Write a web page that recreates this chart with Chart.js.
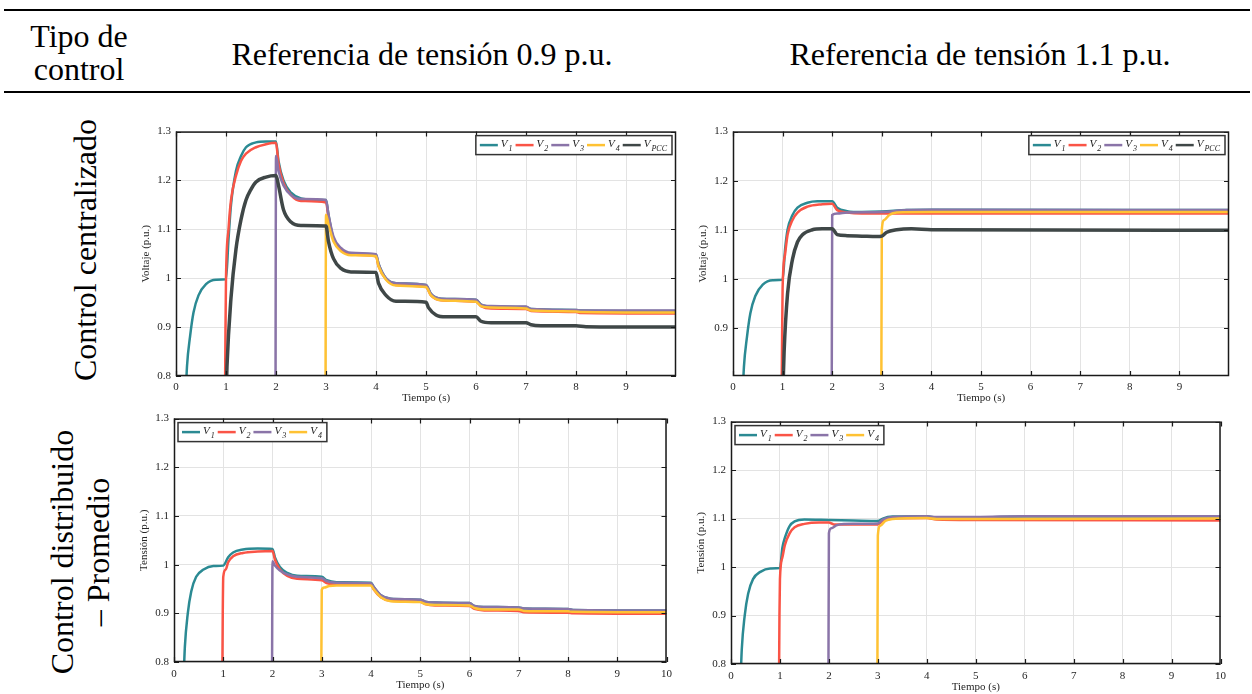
<!DOCTYPE html>
<html>
<head>
<meta charset="utf-8">
<script src="https://cdn.jsdelivr.net/npm/chart.js@4.4.1/dist/chart.umd.min.js"></script>
<style>
  body { margin: 0; width: 1252px; height: 694px; background: #fff; position: relative; overflow: hidden; font-family: "Liberation Serif", serif; color: #000; }
  .rule { position: absolute; left: 4px; width: 1246px; height: 2px; background: #000; }
  .txt { position: absolute; font-size: 32px; text-align: center; white-space: nowrap; }
  .rot { position: absolute; font-size: 32px; text-align: center; white-space: nowrap; transform: rotate(-90deg); transform-origin: 50% 50%; }
  .panel { position: absolute; }
</style>
</head>
<body>
<div class="rule" style="top:9px"></div>
<div class="rule" style="top:91px"></div>
<div class="txt" style="left:20px;top:20px;width:118px;line-height:33px">Tipo de<br>control</div>
<div class="txt" style="left:172px;top:38px;width:500px;line-height:32px">Referencia de tensión 0.9 p.u.</div>
<div class="txt" style="left:730px;top:38px;width:500px;line-height:32px">Referencia de tensión 1.1 p.u.</div>
<div class="rot" style="left:-75px;top:234px;width:320px;line-height:32px">Control centralizado</div>
<div class="rot" style="left:-80px;top:516px;width:320px;line-height:36px">Control distribuido<br>– Promedio</div>

<div class="panel" style="left:130px;top:120px;width:550px;height:290px"><canvas id="cTL"></canvas></div>
<div class="panel" style="left:690px;top:120px;width:545px;height:290px"><canvas id="cTR"></canvas></div>
<div class="panel" style="left:130px;top:407px;width:548px;height:287px"><canvas id="cBL"></canvas></div>
<div class="panel" style="left:690px;top:410px;width:542px;height:284px"><canvas id="cBR"></canvas></div>

<script>
// tick values / labels
const xTicksTop = [0, 1, 2, 3, 4, 5, 6, 7, 8, 9];
const xTickLabelsTop = ['0', '1', '2', '3', '4', '5', '6', '7', '8', '9'];
const xTicksBottom = [0, 1, 2, 3, 4, 5, 6, 7, 8, 9, 10];
const xTickLabelsBottom = ['0', '1', '2', '3', '4', '5', '6', '7', '8', '9', '10'];
const yTicksFull = [0.8, 0.9, 1, 1.1, 1.2, 1.3];
const yTickLabelsFull = ['0.8', '0.9', '1', '1.1', '1.2', '1.3'];
const yTicksNo08 = [0.9, 1, 1.1, 1.2, 1.3];
const yTickLabelsNo08 = ['0.9', '1', '1.1', '1.2', '1.3'];
const seriesLabels = ['V1', 'V2', 'V3', 'V4', 'VPCC'];
const legendSubs = ['1', '2', '3', '4', 'PCC'];

// Control centralizado, referencia 0.9 p.u.  [t (s), V (p.u.)]
const cen09V1 = [[0.19,0.75],[0.22,0.82],[0.28,0.88],[0.35,0.93],[0.45,0.965],[0.6,0.988],[0.8,0.997],[1.0,0.998],[1.05,1.08],[1.1,1.15],[1.2,1.22],[1.3,1.25],[1.4,1.268],[1.6,1.278],[1.8,1.28],[2.0,1.28],[2.05,1.24],[2.15,1.2],[2.3,1.175],[2.5,1.163],[2.8,1.16],[3.0,1.16],[3.05,1.13],[3.15,1.08],[3.3,1.06],[3.5,1.05],[4.0,1.048],[4.05,1.03],[4.2,1.0],[4.4,0.99],[5.0,0.986],[5.1,0.968],[5.3,0.958],[6.0,0.956],[6.1,0.946],[6.3,0.942],[7.0,0.941],[7.1,0.937],[8.0,0.935],[8.1,0.934],[10,0.933]];
const cen09V2 = [[0.98,0.75],[0.99,0.9],[1.0,1.0],[1.05,1.1],[1.1,1.16],[1.2,1.21],[1.3,1.24],[1.4,1.255],[1.6,1.268],[1.8,1.274],[2.0,1.277],[2.05,1.235],[2.15,1.195],[2.3,1.17],[2.5,1.158],[3.0,1.155],[3.05,1.125],[3.15,1.08],[3.3,1.058],[3.5,1.048],[4.0,1.045],[4.05,1.025],[4.2,0.998],[4.4,0.986],[5.0,0.982],[5.1,0.965],[5.3,0.955],[6.0,0.952],[6.1,0.943],[6.3,0.938],[7.0,0.937],[7.1,0.933],[8.0,0.931],[8.1,0.929],[10,0.928]];
const cen09V3 = [[1.99,0.75],[2.0,1.25],[2.05,1.22],[2.15,1.19],[2.3,1.17],[2.5,1.162],[3.0,1.16],[3.05,1.13],[3.15,1.085],[3.3,1.062],[3.5,1.052],[4.0,1.049],[4.05,1.03],[4.2,1.0],[4.4,0.99],[5.0,0.986],[5.1,0.968],[5.3,0.958],[6.0,0.956],[6.1,0.946],[6.3,0.943],[7.0,0.942],[7.1,0.937],[8.0,0.935],[8.1,0.934],[10,0.934]];
const cen09V4 = [[2.99,0.75],[3.0,1.13],[3.05,1.11],[3.15,1.075],[3.3,1.055],[3.5,1.047],[4.0,1.045],[4.05,1.025],[4.2,0.997],[4.4,0.985],[5.0,0.982],[5.1,0.965],[5.3,0.955],[6.0,0.952],[6.1,0.943],[6.3,0.94],[7.0,0.938],[7.1,0.934],[8.0,0.932],[8.1,0.931],[10,0.93]];
const cen09Vpcc = [[1.0,0.75],[1.02,0.82],[1.1,0.96],[1.2,1.06],[1.3,1.12],[1.4,1.16],[1.5,1.182],[1.6,1.197],[1.8,1.207],[2.0,1.21],[2.05,1.19],[2.15,1.14],[2.3,1.115],[2.5,1.108],[3.0,1.107],[3.05,1.075],[3.15,1.04],[3.3,1.02],[3.5,1.013],[4.0,1.012],[4.05,0.99],[4.2,0.965],[4.4,0.953],[5.0,0.951],[5.05,0.94],[5.2,0.925],[5.4,0.921],[6.0,0.921],[6.1,0.912],[6.3,0.909],[7.0,0.909],[7.1,0.905],[7.3,0.903],[8.0,0.903],[8.2,0.901],[10,0.9]];

// Control centralizado, referencia 1.1 p.u.
const cen11V1 = [[0.19,0.75],[0.22,0.82],[0.28,0.88],[0.35,0.93],[0.45,0.965],[0.6,0.988],[0.8,0.997],[1.0,0.998],[1.05,1.06],[1.1,1.1],[1.2,1.13],[1.3,1.145],[1.5,1.155],[1.7,1.158],[2.0,1.158],[2.1,1.145],[2.3,1.138],[2.6,1.136],[3.0,1.137],[3.5,1.14],[4.0,1.141],[10,1.14]];
const cen11V2 = [[0.98,0.75],[0.99,0.88],[1.0,0.98],[1.05,1.05],[1.1,1.09],[1.2,1.12],[1.3,1.135],[1.5,1.147],[1.8,1.152],[2.0,1.153],[2.1,1.14],[2.3,1.135],[2.6,1.133],[3.0,1.133],[3.5,1.133],[10,1.133]];
const cen11V3 = [[1.99,0.75],[2.0,1.13],[2.1,1.133],[2.3,1.135],[3.0,1.136],[3.5,1.14],[4.0,1.141],[10,1.14]];
const cen11V4 = [[2.99,0.75],[3.0,1.1],[3.05,1.12],[3.15,1.13],[3.3,1.135],[4.0,1.136],[10,1.136]];
const cen11Vpcc = [[1.0,0.75],[1.03,0.85],[1.1,0.97],[1.2,1.04],[1.3,1.075],[1.4,1.09],[1.6,1.1],[1.8,1.102],[2.0,1.102],[2.1,1.09],[2.3,1.088],[2.6,1.087],[2.9,1.086],[3.0,1.087],[3.1,1.095],[3.3,1.1],[3.6,1.102],[4.0,1.1],[10,1.099]];

// Control distribuido - Promedio, referencia 0.9 p.u.
const dis09V1 = [[0.19,0.75],[0.22,0.83],[0.28,0.9],[0.35,0.945],[0.45,0.975],[0.6,0.99],[0.8,0.997],[1.0,0.998],[1.1,1.015],[1.2,1.025],[1.4,1.031],[1.7,1.033],[2.0,1.032],[2.05,1.015],[2.15,0.995],[2.3,0.983],[2.5,0.977],[3.0,0.975],[3.1,0.968],[3.3,0.964],[4.0,0.963],[4.05,0.955],[4.2,0.937],[4.4,0.93],[5.0,0.928],[5.1,0.924],[5.3,0.922],[6.0,0.921],[6.1,0.915],[6.3,0.913],[7.0,0.912],[7.1,0.91],[8.0,0.909],[8.1,0.907],[10,0.906]];
const dis09V2 = [[0.98,0.75],[0.99,0.9],[1.0,0.975],[1.05,0.99],[1.1,1.005],[1.2,1.017],[1.4,1.024],[1.7,1.027],[2.0,1.028],[2.05,1.01],[2.15,0.99],[2.3,0.977],[2.5,0.971],[3.0,0.968],[3.1,0.962],[3.3,0.959],[4.0,0.959],[4.05,0.95],[4.2,0.933],[4.4,0.926],[5.0,0.924],[5.1,0.919],[5.3,0.916],[6.0,0.915],[6.1,0.909],[6.3,0.906],[7.0,0.905],[7.1,0.902],[8.0,0.901],[8.1,0.9],[10,0.899]];
const dis09V3 = [[1.99,0.75],[2.0,1.007],[2.05,0.998],[2.15,0.988],[2.3,0.98],[2.5,0.975],[3.0,0.972],[3.1,0.966],[3.3,0.963],[4.0,0.962],[4.05,0.955],[4.2,0.937],[4.4,0.93],[5.0,0.928],[5.1,0.924],[5.3,0.922],[6.0,0.921],[6.1,0.915],[6.3,0.913],[7.0,0.912],[7.1,0.91],[8.0,0.909],[8.1,0.907],[10,0.906]];
const dis09V4 = [[2.99,0.75],[3.0,0.948],[3.05,0.953],[3.15,0.956],[3.3,0.957],[4.0,0.957],[4.05,0.95],[4.2,0.933],[4.4,0.925],[5.0,0.923],[5.1,0.919],[5.3,0.917],[6.0,0.916],[6.1,0.911],[6.3,0.908],[7.0,0.908],[7.1,0.905],[8.0,0.904],[8.1,0.903],[10,0.902]];

// Control distribuido - Promedio, referencia 1.1 p.u.
const dis11V1 = [[0.19,0.75],[0.22,0.83],[0.28,0.9],[0.35,0.945],[0.45,0.975],[0.6,0.99],[0.8,0.997],[1.0,0.998],[1.05,1.04],[1.1,1.06],[1.2,1.085],[1.3,1.094],[1.5,1.098],[2.0,1.097],[2.5,1.096],[3.0,1.095],[3.1,1.1],[3.3,1.104],[4.0,1.105],[4.2,1.102],[5.0,1.102],[6.0,1.104],[10,1.104]];
const dis11V2 = [[0.98,0.75],[0.99,0.9],[1.0,0.975],[1.05,1.02],[1.1,1.045],[1.2,1.07],[1.3,1.082],[1.5,1.089],[1.8,1.092],[2.0,1.092],[2.1,1.088],[2.3,1.088],[3.0,1.088],[3.1,1.095],[3.3,1.1],[4.0,1.101],[4.2,1.098],[5.0,1.097],[10,1.096]];
const dis11V3 = [[1.99,0.75],[2.0,1.07],[2.05,1.08],[2.15,1.086],[2.3,1.089],[3.0,1.09],[3.1,1.098],[3.3,1.103],[4.0,1.105],[4.2,1.103],[5.0,1.103],[6.0,1.105],[10,1.105]];
const dis11V4 = [[2.99,0.75],[3.0,1.065],[3.05,1.085],[3.15,1.095],[3.3,1.099],[4.0,1.101],[4.2,1.099],[5.0,1.099],[10,1.1]];

const seriesColors = ['#2b8a93', '#fa5446', '#8a74a8', '#ffc233', '#3f4747'];
const seriesWidths = [2.5, 2.5, 2.5, 2.5, 3.5];

// box + inward ticks like the original figure
const framePlugin = {
    id: 'frame',
    afterDatasetsDraw(chart) {
        const ctx = chart.ctx, a = chart.chartArea;
        const x = chart.scales.x, y = chart.scales.y;
        ctx.save();
        ctx.strokeStyle = '#1a1a1a';
        ctx.lineWidth = 1.5;
        ctx.strokeRect(a.left + 0.5, a.top + 0.5, a.right - a.left - 1, a.bottom - a.top - 1);
        ctx.lineWidth = 1.2;
        ctx.beginPath();
        x.ticks.forEach(function(t) {
            const px = Math.round(x.getPixelForValue(t.value)) + 0.5;
            ctx.moveTo(px, a.bottom); ctx.lineTo(px, a.bottom - 5);
            ctx.moveTo(px, a.top); ctx.lineTo(px, a.top + 5);
        });
        y.ticks.forEach(function(t) {
            const py = Math.round(y.getPixelForValue(t.value)) + 0.5;
            ctx.moveTo(a.left, py); ctx.lineTo(a.left + 5, py);
            ctx.moveTo(a.right, py); ctx.lineTo(a.right - 5, py);
        });
        ctx.stroke();
        ctx.restore();
    }
};

// legend box with subscripts
const boxLegendPlugin = {
    id: 'boxLegend',
    afterDraw(chart, args, opts) {
        const ctx = chart.ctx, a = chart.chartArea;
        const n = chart.data.datasets.length;
        const mainFont = 'italic 11px "Liberation Serif"';
        const subFont = 'italic 8px "Liberation Serif"';
        const lineLen = 18;
        ctx.save();
        const widths = [];
        for (let i = 0; i < n; i++) {
            ctx.font = mainFont;
            let w = lineLen + 3 + ctx.measureText('V').width + 1;
            ctx.font = subFont;
            w += ctx.measureText(legendSubs[i]).width + 3;
            widths.push(w);
        }
        const total = widths.reduce(function(s, w) { return s + w; }, 0) + 6;
        const h = 19;
        const x0 = opts.align === 'right' ? a.right - 4 - total : a.left + 4;
        const y0 = a.top + 4;
        ctx.fillStyle = '#fff';
        ctx.fillRect(x0, y0, total, h);
        ctx.strokeStyle = '#333';
        ctx.lineWidth = 1.5;
        ctx.strokeRect(x0, y0, total, h);
        let cx = x0 + 4;
        const cy = y0 + h / 2;
        for (let i = 0; i < n; i++) {
            const ds = chart.data.datasets[i];
            ctx.strokeStyle = ds.borderColor;
            ctx.lineWidth = 2.5;
            ctx.beginPath();
            ctx.moveTo(cx, cy); ctx.lineTo(cx + lineLen, cy);
            ctx.stroke();
            let tx = cx + lineLen + 3;
            ctx.fillStyle = '#222';
            ctx.font = mainFont;
            ctx.textBaseline = 'alphabetic';
            ctx.fillText('V', tx, cy + 2);
            tx += ctx.measureText('V').width + 1;
            ctx.font = subFont;
            ctx.fillText(legendSubs[i], tx, cy + 6);
            cx += widths[i];
        }
        ctx.restore();
    }
};

function makePanel(id, series, p) {
    const datasets = series.map(function(s, i) {
        return {
            label: seriesLabels[i],
            data: s.map(function(pt) { return { x: pt[0], y: pt[1] }; }),
            borderColor: seriesColors[i],
            borderWidth: seriesWidths[i],
            pointRadius: 0,
            cubicInterpolationMode: 'monotone',
            fill: false,
            clip: 0,
            order: series.length - i
        };
    });
    const tickFont = { family: 'Liberation Serif', size: 11 };
    return new Chart(document.getElementById(id), {
        type: 'line',
        data: { datasets: datasets },
        plugins: [framePlugin, boxLegendPlugin],
        options: {
            responsive: true,
            maintainAspectRatio: false,
            animation: false,
            layout: { padding: p.pad },
            plugins: {
                legend: { display: false },
                tooltip: { enabled: false },
                boxLegend: { align: p.legendAlign }
            },
            scales: {
                x: {
                    type: 'linear',
                    min: 0,
                    max: 10,
                    afterBuildTicks: function(scale) { scale.ticks = p.xTicks.map(function(v) { return { value: v }; }); },
                    afterFit: function(scale) { scale.height = p.xH; },
                    grid: { color: '#e3e3e3', drawTicks: false },
                    border: { display: false },
                    ticks: {
                        color: '#262626', font: tickFont, padding: p.xPad, maxRotation: 0,
                        callback: function(v, i) { return p.xLabels[i]; }
                    },
                    title: { display: true, text: 'Tiempo (s)', color: '#262626', font: tickFont, padding: { top: 0, bottom: p.xTitlePad } }
                },
                y: {
                    type: 'linear',
                    min: p.yMin,
                    max: 1.3,
                    afterBuildTicks: function(scale) { scale.ticks = p.yTicks.map(function(v) { return { value: v }; }); },
                    afterFit: function(scale) { scale.width = p.yW; },
                    grid: { color: '#e3e3e3', drawTicks: false },
                    border: { display: false },
                    ticks: {
                        color: '#262626', font: tickFont, padding: 5,
                        callback: function(v, i) { return p.yLabels[i]; }
                    },
                    title: { display: true, text: p.yTitle, color: '#262626', font: tickFont, padding: { top: p.yTitlePad, bottom: 0 } }
                }
            }
        }
    });
}

makePanel('cTL', [cen09V1, cen09V2, cen09V3, cen09V4, cen09Vpcc], {
    pad: { top: 8, right: 4, left: 0, bottom: 0 }, yW: 46, xH: 34, xPad: 5, xTitlePad: 5, yTitlePad: 10,
    xTicks: xTicksTop, xLabels: xTickLabelsTop, yTicks: yTicksFull, yLabels: yTickLabelsFull, yMin: 0.8,
    yTitle: 'Voltaje (p.u.)', legendAlign: 'right'
});
makePanel('cTR', [cen11V1, cen11V2, cen11V3, cen11V4, cen11Vpcc], {
    pad: { top: 8, right: 6, left: 0, bottom: 0 }, yW: 43, xH: 34, xPad: 5, xTitlePad: 5, yTitlePad: 7,
    xTicks: xTicksTop, xLabels: xTickLabelsTop, yTicks: yTicksNo08, yLabels: yTickLabelsNo08, yMin: 0.802,
    yTitle: 'Voltaje (p.u.)', legendAlign: 'right'
});
makePanel('cBL', [dis09V1, dis09V2, dis09V3, dis09V4], {
    pad: { top: 8, right: 5, left: 0, bottom: 0 }, yW: 44, xH: 32, xPad: 6, xTitlePad: 2, yTitlePad: 8,
    xTicks: xTicksBottom, xLabels: xTickLabelsBottom, yTicks: yTicksFull, yLabels: yTickLabelsFull, yMin: 0.8,
    yTitle: 'Tensión (p.u.)', legendAlign: 'left'
});
makePanel('cBR', [dis11V1, dis11V2, dis11V3, dis11V4], {
    pad: { top: 8, right: 5, left: 0, bottom: 0 }, yW: 41, xH: 30, xPad: 6, xTitlePad: 0, yTitlePad: 5,
    xTicks: xTicksBottom, xLabels: xTickLabelsBottom, yTicks: yTicksFull, yLabels: yTickLabelsFull, yMin: 0.8,
    yTitle: 'Tensión (p.u.)', legendAlign: 'left'
});
</script>
</body>
</html>
